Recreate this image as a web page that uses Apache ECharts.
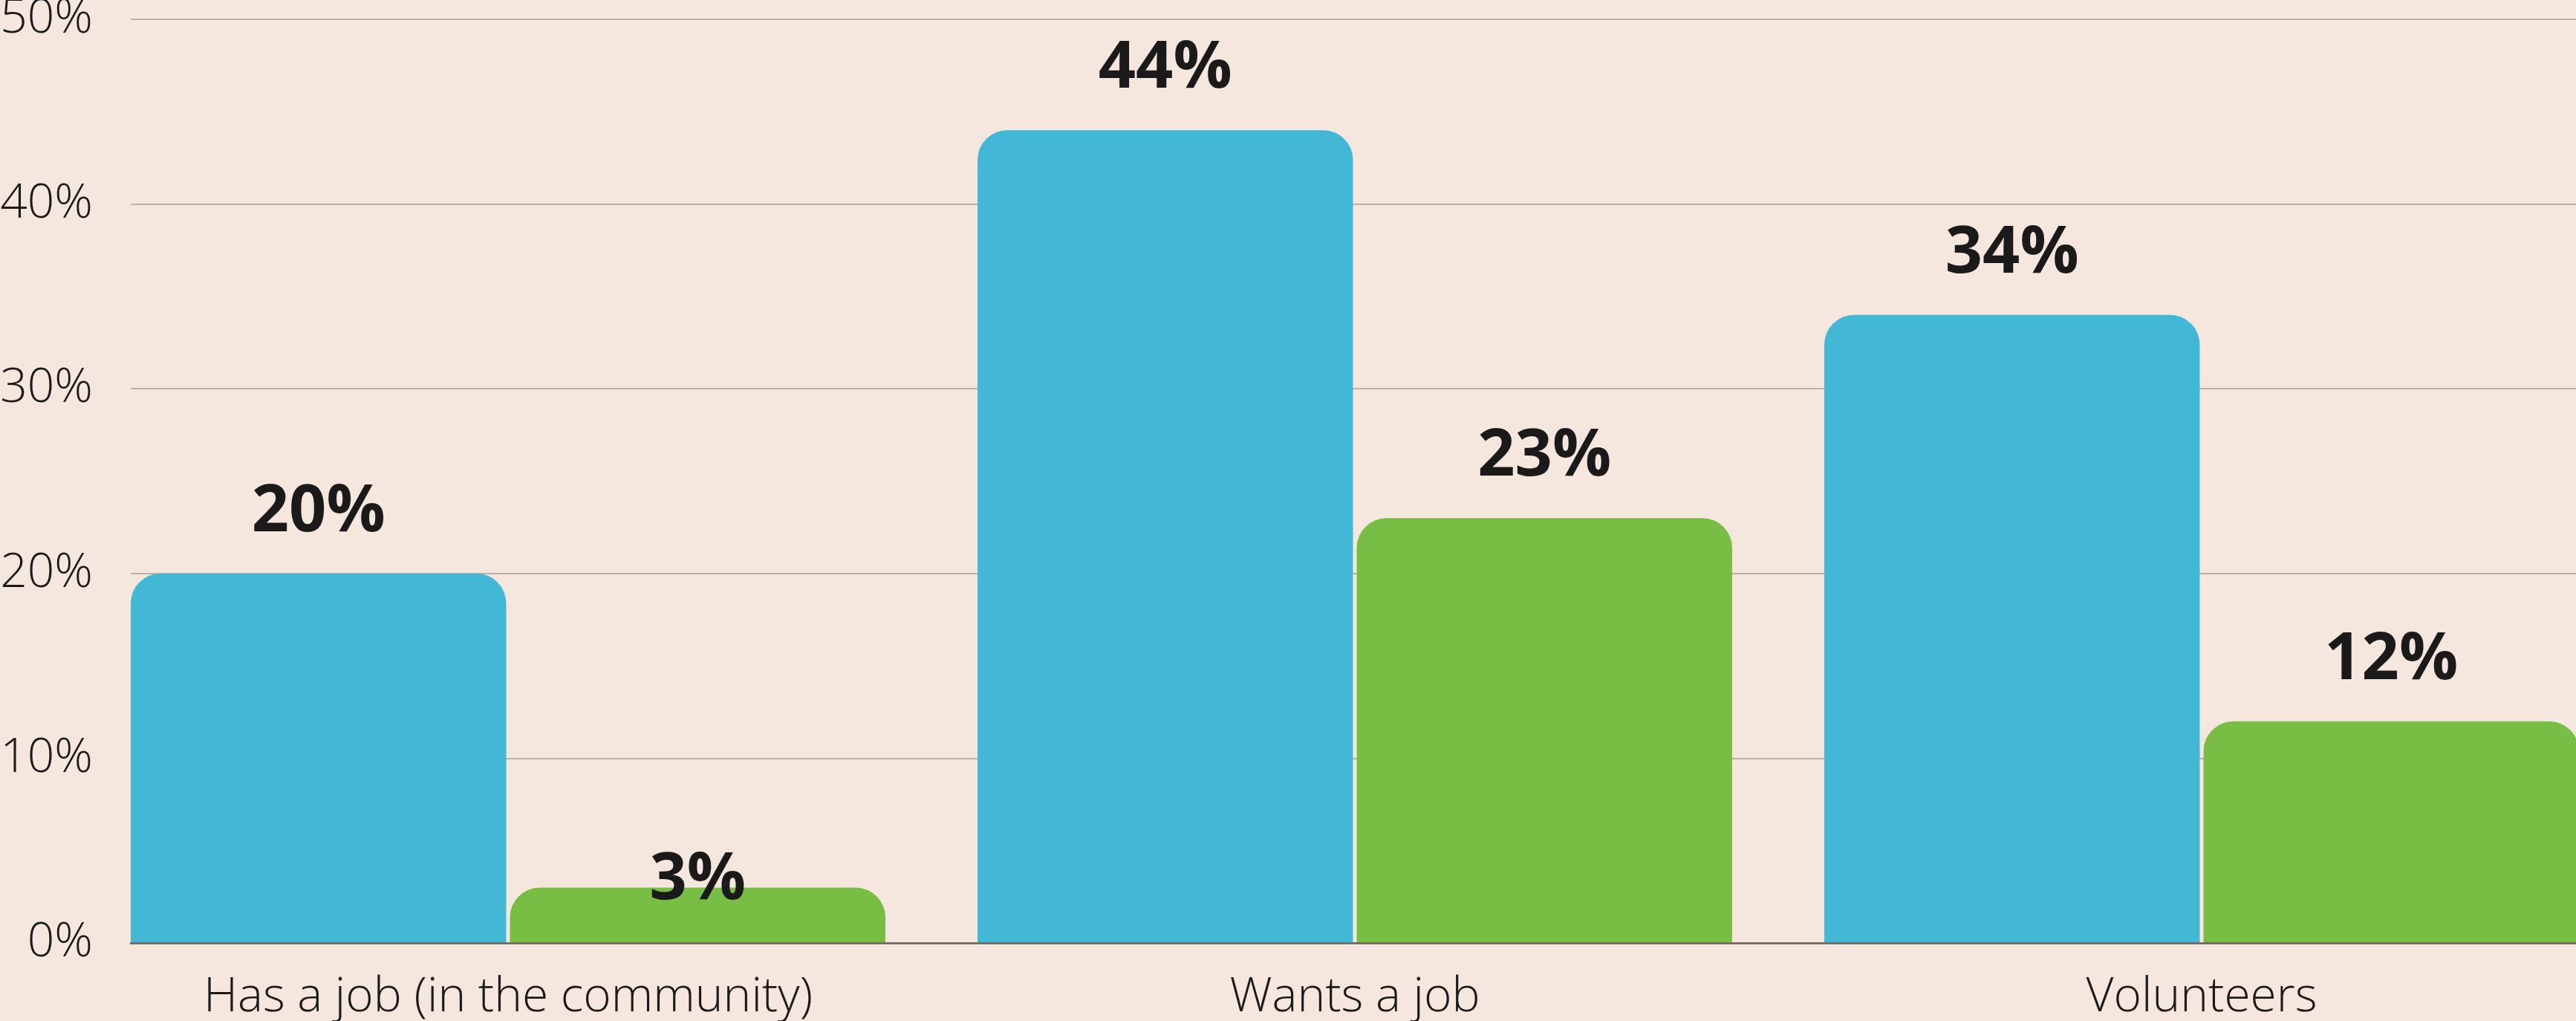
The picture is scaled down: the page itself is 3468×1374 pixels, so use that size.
<!DOCTYPE html>
<html>
<head>
<meta charset="utf-8">
<script src="https://cdn.jsdelivr.net/npm/echarts@6/dist/echarts.min.js"></script>
<style>
  html, body { margin: 0; padding: 0; background: #f5e6de; }
  #chart { width: 3468px; height: 1374px; }
</style>
</head>
<body>
<div id="chart"></div>
<script>
const categories = ['Has a job (in the community)', 'Wants a job', 'Volunteers'];
const blueValues = [20, 44, 34];
const greenValues = [3, 23, 12];
const yMin = 0, yMax = 50, yStep = 10;

const chart = echarts.init(document.getElementById('chart'), null, { renderer: 'canvas' });

const labelFont = { fontFamily: 'Open Sans', fontWeight: 'bold', fontSize: 88, color: '#1a1a1a' };
const barRadius = [40, 40, 0, 0];

chart.setOption({
  backgroundColor: '#f5e6de',
  animation: false,
  grid: [
    { left: 176, right: 0, top: 26, bottom: 105, outerBoundsMode: 'none' },
    { left: 114, width: 3420, top: 26, bottom: 105, outerBoundsMode: 'none' }
  ],
  xAxis: [
    {
      gridIndex: 0, type: 'category', data: categories, z: 5,
      axisLine: { show: true, lineStyle: { color: '#6b635c', width: 2.5 } },
      axisTick: { show: false }, axisLabel: { show: false }, splitLine: { show: false }
    },
    {
      gridIndex: 1, type: 'category', data: categories,
      axisLine: { show: false }, axisTick: { show: false },
      axisLabel: { show: true, margin: 42, fontFamily: 'Open Sans', fontWeight: 300, fontSize: 64, color: '#1a1a1a' }
    }
  ],
  yAxis: [
    {
      gridIndex: 0, type: 'value', min: yMin, max: yMax, interval: yStep,
      axisLine: { show: false }, axisTick: { show: false },
      axisLabel: { margin: 51, formatter: '{value}%', fontFamily: 'Open Sans', fontWeight: 300, fontSize: 64, color: '#1a1a1a' },
      splitLine: { show: true, lineStyle: { color: '#bcb1a9', width: 2 } }
    },
    {
      gridIndex: 1, type: 'value', min: yMin, max: yMax, interval: yStep, show: false,
      splitLine: { show: false }
    }
  ],
  series: [
    {
      name: 'Blue', type: 'bar', xAxisIndex: 1, yAxisIndex: 1,
      data: blueValues,
      barCategoryGap: '10.88%', barGap: '1%',
      itemStyle: { color: '#42b7d6', borderRadius: barRadius },
      label: Object.assign({ show: true, position: 'top', distance: 38, formatter: '{c}%' }, labelFont)
    },
    {
      name: 'Green', type: 'bar', xAxisIndex: 1, yAxisIndex: 1,
      data: greenValues.map((v, i) => i === 0 ? { value: v, label: { distance: -35 } } : v),
      barCategoryGap: '10.88%', barGap: '1%',
      itemStyle: { color: '#78be45', borderRadius: barRadius },
      label: Object.assign({ show: true, position: 'top', distance: 38, formatter: '{c}%' }, labelFont)
    }
  ]
});
</script>
</body>
</html>
